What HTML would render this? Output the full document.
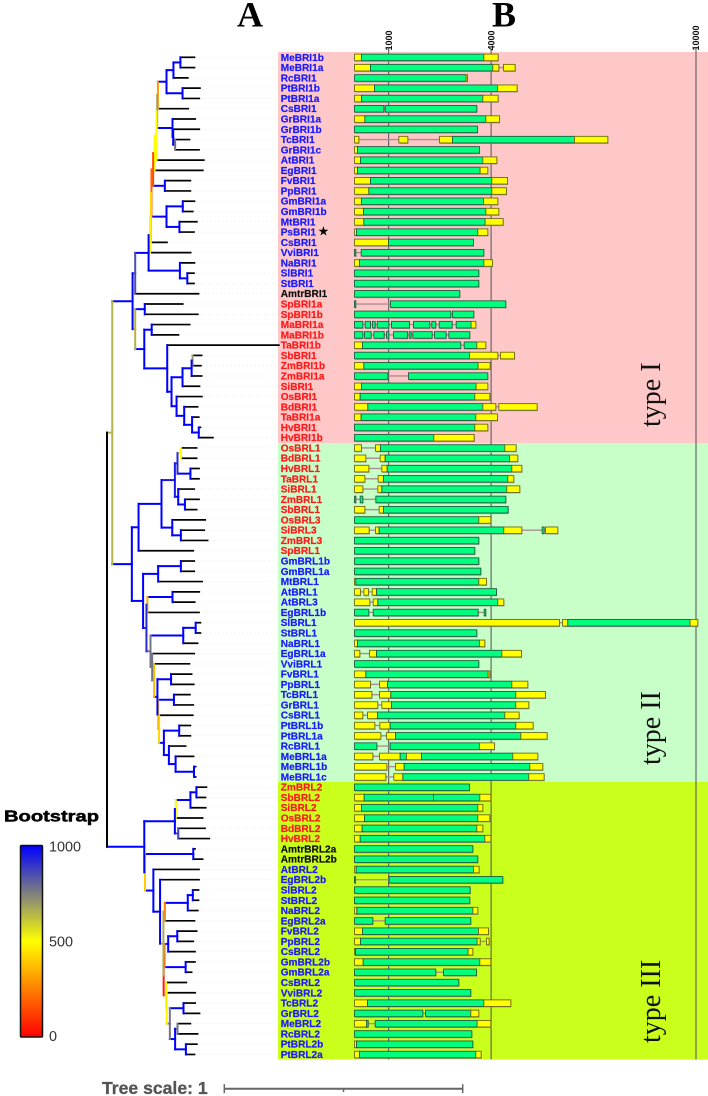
<!DOCTYPE html>
<html lang="en">
<head>
<meta charset="utf-8">
<title>BRI1 / BRL phylogeny and gene structure</title>
<style>
html,body{margin:0;padding:0;background:#fff;width:708px;height:1096px;overflow:hidden}
svg{display:block}
text{font-family:"Liberation Sans",sans-serif}
</style>
</head>
<body>
<svg id="chart" xmlns="http://www.w3.org/2000/svg" width="708" height="1096" viewBox="0 0 708 1096">
  <defs>
    <linearGradient id="bootGrad" x1="0" y1="0" x2="0" y2="1">
      <stop offset="0" stop-color="#0000ff"/>
      <stop offset="0.5" stop-color="#ffff00"/>
      <stop offset="1" stop-color="#ff0000"/>
    </linearGradient>
  </defs>
  <g id="bands">
    <rect x="278" y="52" width="430" height="391" fill="#ffc8c8"/>
    <rect x="278" y="443" width="430" height="339" fill="#c8ffc8"/>
    <rect x="278" y="782" width="430" height="277.5" fill="#caff1c"/>
  </g>
  <g id="axis"></g>
  <g id="leaders"></g>
  <g id="tree"></g>
  <g id="genes"></g>
  <g id="labels"></g>

  <text x="237" y="26.5" font-size="36" font-weight="bold" style="font-family:'Liberation Serif',serif" fill="#000">A</text>
  <text x="492" y="26.5" font-size="36" font-weight="bold" style="font-family:'Liberation Serif',serif" fill="#000">B</text>

  <text x="323.5" y="235.5" font-size="13" text-anchor="middle" style="font-family:'DejaVu Sans',sans-serif" fill="#000">★</text>

  <text transform="translate(660,427) rotate(-90)" font-size="28" style="font-family:'Liberation Serif',serif" fill="#111">type I</text>
  <text transform="translate(660,765) rotate(-90)" font-size="28" style="font-family:'Liberation Serif',serif" fill="#111">type II</text>
  <text transform="translate(660,1043) rotate(-90)" font-size="28" style="font-family:'Liberation Serif',serif" fill="#111">type III</text>

  <g>
    <text x="4" y="821.5" font-size="16" font-weight="bold" fill="#000" stroke="#000" stroke-width="0.5" textLength="95" lengthAdjust="spacingAndGlyphs">Bootstrap</text>
    <rect x="20.5" y="845.5" width="22" height="191.5" rx="1" fill="url(#bootGrad)" stroke="#111" stroke-width="1.5"/>
    <text x="49" y="851.7" font-size="14.4" fill="#333">1000</text>
    <text x="49" y="946.7" font-size="14.4" fill="#333">500</text>
    <text x="49" y="1041" font-size="14.4" fill="#333">0</text>
  </g>

  <g>
    <text x="102" y="1094" font-size="17.6" font-weight="bold" fill="#555" stroke="#555" stroke-width="0.3">Tree scale: 1</text>
    <g id="scaleBar"></g>
  </g>
</svg>
<script>
/* ---------- chart data ---------- */
const axisTicks = [1000, 4000, 10000];

const geneNames = ["MeBRI1b","MeBRI1a","RcBRI1","PtBRI1b","PtBRI1a","CsBRI1","GrBRI1a","GrBRI1b","TcBRI1","GrBRI1c","AtBRI1","EgBRI1","FvBRI1","PpBRI1","GmBRI1a","GmBRI1b","MtBRI1","PsBRI1","CsBRI1","VviBRI1","NaBRI1","SlBRI1","StBRI1","AmtrBRI1","SpBRI1a","SpBRI1b","MaBRI1a","MaBRI1b","TaBRI1b","SbBRI1","ZmBRI1b","ZmBRI1a","SiBRI1","OsBRI1","BdBRI1","TaBRI1a","HvBRI1","HvBRI1b",
"OsBRL1","BdBRL1","HvBRL1","TaBRL1","SiBRL1","ZmBRL1","SbBRL1","OsBRL3","SiBRL3","ZmBRL3","SpBRL1","GmBRL1b","GmBRL1a","MtBRL1","AtBRL1","AtBRL3","EgBRL1b","SlBRL1","StBRL1","NaBRL1","EgBRL1a","VviBRL1","FvBRL1","PpBRL1","TcBRL1","GrBRL1","CsBRL1","PtBRL1b","PtBRL1a","RcBRL1","MeBRL1a","MeBRL1b","MeBRL1c",
"ZmBRL2","SbBRL2","SiBRL2","OsBRL2","BdBRL2","HvBRL2","AmtrBRL2a","AmtrBRL2b","AtBRL2","EgBRL2b","SlBRL2","StBRL2","NaBRL2","EgBRL2a","FvBRL2","PpBRL2","CsBRL2","GmBRL2b","GmBRL2a","CsBRL2","VviBRL2","TcBRL2","GrBRL2","MeBRL2","RcBRL2","PtBRL2b","PtBRL2a"];

/* plant lineage of each gene: e = eudicot, m = monocot, a = Amborella */
const geneLineage = "eeeeeeeeeeeeeeeeeeeeeeeammmmmmmmmmmmmm".split("")
  .concat("mmmmmmmmmmm".split(""), "eeeeeeeeeeeeeeeeeeeeee".split(""))
  .concat("mmmmmm".split(""), "aa".split(""), "eeeeeeeeeeeeeeeeeee".split(""));

/* gene models in base pairs: u = UTR, c = coding */
const u = 'u', c = 'c';
const geneModels = [
[[u,0,205],[c,205,3787],[u,3787,4207]],
[[u,0,468],[c,468,4050],[u,4050,4226],[u,4363,4704]],
[[c,0,3270],[u,3270,3309]],
[[u,0,586],[c,586,4187],[u,4187,4763]],
[[u,0,205],[c,205,3758],[u,3758,4207]],
[[c,0,859],[c,898,3582]],
[[u,0,303],[c,303,3845],[u,3845,4246]],
[[c,0,3601]],
[[u,0,127],[u,1298,1562],[u,2489,2869],[c,2869,6442],[u,6442,7418]],
[[u,0,88],[c,88,3660]],
[[u,0,176],[c,176,3758],[u,3758,4168]],
[[u,0,88],[c,88,3680],[u,3680,3904]],
[[u,0,468],[c,468,4021],[u,4021,4480]],
[[u,0,420],[c,420,4021],[u,4021,4450]],
[[u,0,205],[c,205,3777],[u,3777,4197]],
[[u,0,264],[c,264,3845],[u,3845,4226]],
[[u,0,273],[c,273,3826],[u,3826,4353]],
[[u,0,59],[c,59,3611],[u,3611,3904]],
[[u,0,996],[c,996,3484]],
[[c,0,39],[c,195,3787]],
[[u,0,146],[c,146,3787],[u,3787,4041]],
[[c,0,3640]],
[[c,0,3640]],
[[c,0,3084]],
[[c,0,39],[c,1054,4431]],
[[c,0,2821],[c,2869,3494]],
[[c,0,244],[c,312,468],[c,527,605],[c,664,1005],[c,1083,1610],[c,1727,2206],[c,2264,2381],[c,2479,2860],[c,2977,3416],[u,3416,3553]],
[[c,0,244],[c,293,488],[c,566,869],[c,937,1005],[c,1142,1552],[c,1601,1659],[c,1708,2274],[c,2342,2684],[c,2762,3377]],
[[u,0,234],[c,234,3113],[c,3211,3582],[u,3582,3845]],
[[c,0,3367],[u,3367,4197],[u,4275,4685]],
[[u,0,273],[c,273,3621],[u,3621,3972]],
[[c,0,976],[c,1581,3904]],
[[u,0,205],[c,205,3562],[u,3562,3904]],
[[u,0,166],[c,166,3523],[u,3523,3963]],
[[u,0,390],[c,390,3758],[u,3758,4138],[u,4226,5348]],
[[u,0,195],[c,195,3553],[u,3553,4187]],
[[c,0,3523],[u,3523,3904]],
[[c,0,2323],[u,2323,3504]],
[[u,0,205],[u,615,761],[c,761,4402],[u,4402,4734]],
[[u,0,332],[u,752,898],[c,898,4538],[u,4538,4782]],
[[u,0,420],[u,800,956],[c,956,4607],[u,4607,4900]],
[[u,0,303],[u,693,849],[c,849,4490],[u,4490,4665]],
[[u,0,244],[u,683,800],[c,800,4460],[u,4460,4841]],
[[c,0,39],[c,166,244],[c,625,4431]],
[[u,0,303],[u,722,849],[c,849,4499]],
[[c,0,3640],[u,3640,3992]],
[[u,0,429],[u,615,722],[c,722,4372],[u,4372,4900],[c,5495,5553],[u,5592,5954]],
[[c,0,3640]],
[[c,0,3523]],
[[c,0,3640]],
[[c,0,3699]],
[[u,0,39],[c,39,3640],[u,3640,3865]],
[[u,0,176],[u,273,410],[u,517,644],[c,644,4158]],
[[u,0,449],[u,547,683],[c,683,4197],[u,4197,4372]],
[[c,0,420],[c,547,3621],[c,3797,3845]],
[[u,0,6002],[u,6090,6246],[c,6246,9828],[u,9828,10053]],
[[c,0,3582]],
[[u,0,88],[c,88,3660],[u,3660,3816]],
[[u,0,156],[u,439,644],[c,644,4314],[u,4314,4890]],
[[c,0,3640]],
[[u,0,332],[c,332,3914],[u,3914,3963]],
[[u,0,468],[u,732,966],[c,966,4607],[u,4607,5075]],
[[u,0,508],[u,732,1064],[c,1064,4724],[u,4724,5592]],
[[u,0,683],[u,800,1083],[c,1083,4724],[u,4724,5104]],
[[u,0,244],[u,381,673],[c,673,4402],[u,4402,4821]],
[[u,0,595],[u,742,1044],[c,1044,4724],[u,4724,5231]],
[[u,0,771],[u,937,1200],[c,1200,4870],[u,4870,5641]],
[[c,0,654],[c,1044,3660],[u,3660,4099]],
[[u,0,537],[u,732,1337],[c,1337,1523],[u,1523,1962],[c,1962,4636],[u,4636,5368]],
[[u,0,947],[u,1200,1454],[c,1454,5134],[u,5134,5514]],
[[u,0,917],[u,1152,1415],[c,1415,5104],[u,5104,5553]],
[[c,0,3367]],
[[u,0,283],[c,283,2313],[c,2313,3670],[u,3670,3992]],
[[u,0,205],[c,205,3611],[u,3611,3758]],
[[u,0,293],[c,293,3611],[u,3611,3963]],
[[u,0,224],[c,224,3582],[u,3582,3758]],
[[u,0,166],[c,166,3816],[u,3816,3992]],
[[c,0,3465]],
[[c,0,3611]],
[[u,0,49],[c,49,3484],[u,3484,3650]],
[[c,0,20],[c,1015,4343]],
[[c,0,3387]],
[[c,0,3377]],
[[u,0,68],[c,68,3465],[u,3465,3611]],
[[c,0,537],[c,898,3406]],
[[u,0,234],[c,234,3631],[u,3631,3924]],
[[u,0,176],[c,176,3592],[u,3592,3680],[u,3865,3943]],
[[u,0,29],[c,29,3328],[u,3328,3465]],
[[u,0,254],[c,254,3670],[u,3670,3992]],
[[c,0,2381],[c,2606,3572]],
[[c,0,3055]],
[[c,0,3406]],
[[u,0,381],[c,381,3787],[u,3787,4577]],
[[c,0,2001],[c,2079,3406],[u,3406,3640]],
[[u,0,351],[c,351,400],[c,605,3592],[u,3592,3992]],
[[c,0,3436]],
[[u,0,59],[c,59,3465]],
[[u,0,146],[c,146,3553],[u,3553,3709]]
];

/* tree: internal node = [branch length (milli-units), bootstrap, child, child]; leaf = branch length */
const treeRoot = [0, null,
 [22,650,
  [85,1000,
   [11,850,
    [56,1000,
     [6,480,
      [4,420,
       [2,200,
        [7,150,
         [6,500,
          [8,500,
           [3,680,
            [3,300,
             [36,1000,
              [29,1000,[29,1000,59,59],60],
              [67,1000,73,70]],
             127],
            [64,1000,95,[3,1000,109,[8,770,60,100]]]],
           198],
          202],
         [49,1000,107,107]],
        [63,1000,[68,1000,49,42],[54,1000,73,61]]],
       67],
      170],
     [131,1000,61,[31,1000,28,28]]],
    265],
   [11,650,
    [40,1000,159,222],
    [38,1000,
     [31,1000,159,112],
     [96,1000,467,
      [18,1000,
       [46,1000,
        [38,1000,[4,700,38,35],42],
        71],
       [21,1000,106,
        [32,1000,56,
         [33,1000,28,[28,1000,7,59]]]]]]]]],
  [82,1000,
   [28,1000,
    [96,1000,
     [56,950,
      [11,920,
       [14,500,66,66],
       [54,1000,36,36]],
      [14,1000,67,[28,1000,59,49]]],
     [45,1000,138,[36,1000,98,112]]],
    229],
   [47,1000,
    [63,1000,[95,1000,56,56],184],
    [14,920,
     [4,350,[105,1000,112,93],216],
     [17,770,
      [137,1000,[52,1000,20,20],60],
      [7,770,176,
       [8,370,148,
        [14,1000,
         [57,1000,86,95],
         [3,370,
          [66,1000,67,81],
          [4,420,141,
           [20,1000,
            [64,1000,47,47],
            [21,1000,70,
             [28,1000,75,[77,1000,7,7]]]]]]]]]]]]]],
 [156,1000,
  [128,1000,
   [4,500,
    [61,1000,[25,1000,42,38],64],
    112],
   [14,870,112,130]],
  [3,400,
   [202,1000,7,39],
   [35,1000,191,
    [28,1000,163,
     [14,660,
      [6,250,
       [96,1000,[21,1000,24,24],42],
       124],
      [1,60,
       [4,250,
        [15,1000,[38,1000,81,67],112],
        [88,1000,39,25]],
       [10,480,85,
        [3,480,119,
         [13,770,
          [57,1000,49,67],
          [22,1000,
           [10,770,54,84],
           [45,1000,46,36]]]]]]]]]]]];

/* ---------- scales ---------- */
const NS = 'http://www.w3.org/2000/svg';
function rowY(i){ return 57.3 + 10.28 * i; }
function bpX(bp){ return 354.5 + bp * 0.03415; }
function treeX(mu){ return 107 + mu * 0.239; }
function bootColor(b){
  if (b === null) return '#000';
  var r, g, bl;
  if (b <= 500){ r = 255; g = 255 * b / 500; bl = 0; }
  else { var t = (b - 500) / 500; r = 255 * (1 - t); g = 255 * (1 - t); bl = 255 * t; }
  return 'rgb(' + Math.round(r) + ',' + Math.round(g) + ',' + Math.round(bl) + ')';
}
function mk(tag, attrs, parent){
  var el = document.createElementNS(NS, tag);
  for (var k in attrs) el.setAttribute(k, attrs[k]);
  parent.appendChild(el);
  return el;
}

/* ---------- length axis ---------- */
var axisG = document.getElementById('axis');
axisTicks.forEach(function(t){
  var x = bpX(t);
  var line = mk('line', {x1:x, x2:x, y1:48.5, y2:1059.5, stroke:'#5c5c5c', 'stroke-width':1.1}, axisG);
  
  
  var lab = mk('text', {transform:'translate(' + (x + 3.2) + ',50.5) rotate(-90)', 'font-size':9, 'font-weight':'bold', fill:'#111'}, axisG);
  
  
  lab.textContent = String(t);
});

/* ---------- tree ---------- */
var treeG = document.getElementById('tree');
var leadG = document.getElementById('leaders');
var leafIndex = 0;
function drawLine(x1, y1, x2, y2, color, width, name){
  var l = mk('line', {x1:x1, y1:y1, x2:x2, y2:y2, stroke:color, 'stroke-width':width, 'stroke-linecap':'square'}, treeG);
  
  
}
function layout(node, parentMu){
  if (typeof node === 'number'){
    var y = rowY(leafIndex);
    var endMu = parentMu + node;
    var lead = mk('line', {x1:treeX(endMu) + 2, x2:277, y1:y, y2:y, stroke:'#e4e4e4', 'stroke-width':0.8, 'stroke-dasharray':'1 3'}, leadG);
    
    
    drawLine(treeX(parentMu), y, treeX(endMu), y, '#000', 1.7, 'leaf-branch-' + geneNames[leafIndex]);
    leafIndex++;
    return y;
  }
  var mu = parentMu + node[0];
  var ys = [];
  for (var i = 2; i < node.length; i++) ys.push(layout(node[i], mu));
  var yTop = ys[0], yBot = ys[ys.length - 1], yMid = (yTop + yBot) / 2;
  var col = bootColor(node[1]);
  drawLine(treeX(mu), yTop, treeX(mu), yBot, col, 2, 'tree-clade-connector');
  if (node[0] > 0) drawLine(treeX(parentMu), yMid, treeX(mu), yMid, col, 2, 'tree-branch');
  return yMid;
}
layout(treeRoot, 0);

/* ---------- gene structures and labels ---------- */
var genesG = document.getElementById('genes');
var labelsG = document.getElementById('labels');
var lineageColor = {e:'#1a1aff', m:'#ff1a1a', a:'#111111'};
geneModels.forEach(function(model, i){
  var y = rowY(i);
  model.forEach(function(seg, j){
    if (j > 0 && seg[1] > model[j - 1][2]){
      var intr = mk('line', {x1:bpX(model[j - 1][2]), x2:bpX(seg[1]), y1:y, y2:y, stroke:'#a89090', 'stroke-width':1.4}, genesG);
      
      
    }
  });
  model.forEach(function(seg){
    var x0 = bpX(seg[1]), x1 = bpX(seg[2]);
    var sh = mk('rect', {x:x0 + 0.6, y:y - 3 + 0.8, width:Math.max(x1 - x0, 1), height:6.6, fill:'#8c8c8c', opacity:0.75}, genesG);
    
    
  });
  model.forEach(function(seg){
    var x0 = bpX(seg[1]), x1 = bpX(seg[2]);
    var isCds = seg[0] === 'c';
    var r = mk('rect', {x:x0, y:y - 3.2, width:Math.max(x1 - x0, 0.8), height:6.6, fill:isCds ? '#00ff7f' : '#ffff00', stroke:isCds ? '#1f5c40' : '#6f6a12', 'stroke-width':0.9}, genesG);
    
    
  });
  var t = mk('text', {x:280.7, y:y + 3.5, 'font-size':10.1, 'font-weight':'bold', fill:lineageColor[geneLineage[i]], stroke:lineageColor[geneLineage[i]], 'stroke-width':0.2}, labelsG);
  
  
  t.textContent = geneNames[i];
});

/* ---------- tree scale bar ---------- */
var scaleG = document.getElementById('scaleBar');
var scaleLine = mk('line', {x1:224.3, x2:462.7, y1:1088.7, y2:1088.7, stroke:'#666', 'stroke-width':2}, scaleG);


[[224.3, 1084.2, 1093.2], [343.5, 1088.7, 1092], [462.7, 1084.2, 1093.2]].forEach(function(p){
  var tk = mk('line', {x1:p[0], x2:p[0], y1:p[1], y2:p[2], stroke:'#666', 'stroke-width':1.5}, scaleG);
  
  
});
</script>
</body>
</html>
